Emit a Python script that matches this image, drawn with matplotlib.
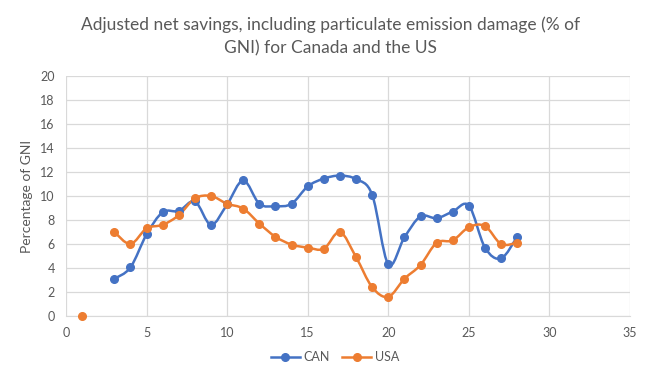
import numpy as np
import matplotlib
matplotlib.use("Agg")
import matplotlib.pyplot as plt
from matplotlib.path import Path
from matplotlib.patches import PathPatch
from matplotlib.lines import Line2D

years = list(range(1, 29))
can = [np.nan, np.nan, 3.1, 4.05, 6.8, 8.65, 8.75, 9.55, 7.6, 9.3, 11.3, 9.35, 9.15, 9.35,
       10.8, 11.45, 11.7, 11.4, 10.1, 4.3, 6.55, 8.3, 8.15, 8.7, 9.2, 5.7, 4.8, 6.6]
usa = [0.0, np.nan, 7.0, 6.0, 7.3, 7.6, 8.4, 9.8, 10.0, 9.35, 8.95, 7.7, 6.6, 5.95,
       5.7, 5.6, 7.0, 4.9, 2.4, 1.6, 3.1, 4.25, 6.1, 6.3, 7.4, 7.5, 6.0, 6.1]
series_names = ["CAN", "USA"]
colors = ["#4472C4", "#ED7D31"]

fig = plt.figure(figsize=(6.7, 3.79), dpi=100)
ax = fig.add_axes([66/670, 63/379, 564/670, 240/379])

def smooth_path(x, y):
    x = np.asarray(x, float); y = np.asarray(y, float)
    verts, codes = [], []
    runs, cur = [], []
    for i in range(len(x)):
        if np.isnan(y[i]):
            if cur: runs.append(cur); cur = []
        else:
            cur.append(i)
    if cur: runs.append(cur)
    for r in runs:
        if len(r) < 2:
            continue
        px = x[r]; py = y[r]
        m = len(r)
        verts.append((px[0], py[0])); codes.append(Path.MOVETO)
        for k in range(m - 1):
            p0 = (px[k-1], py[k-1]) if k > 0 else (px[k], py[k])
            p1 = (px[k], py[k]); p2 = (px[k+1], py[k+1])
            p3 = (px[k+2], py[k+2]) if k + 2 < m else (px[k+1], py[k+1])
            c1 = (p1[0] + (p2[0]-p0[0])/6, p1[1] + (p2[1]-p0[1])/6)
            c2 = (p2[0] - (p3[0]-p1[0])/6, p2[1] - (p3[1]-p1[1])/6)
            verts += [c1, c2, p2]; codes += [Path.CURVE4]*3
    return Path(verts, codes)

for vals, c in zip([can, usa], colors):
    ax.add_patch(PathPatch(smooth_path(years, vals), fill=False, edgecolor=c, lw=1.8, zorder=3))
    ax.plot(years, vals, linestyle="none", marker="o", markersize=5.5, color=c, zorder=4,
            clip_on=False)

ax.set_xlim(0, 35)
ax.set_ylim(0, 20)
ax.set_xticks(range(0, 36, 5))
ax.set_yticks(range(0, 21, 2))
ax.grid(True, color="#D9D9D9", lw=0.9)
ax.set_axisbelow(True)
for s in ["top", "right", "left"]:
    ax.spines[s].set_visible(False)
ax.spines["bottom"].set_color("#D9D9D9")
ax.tick_params(axis="x", length=0, labelsize=9, colors="#595959", pad=8)
ax.tick_params(axis="y", length=0, labelsize=9, colors="#595959", pad=8)
for lab in ax.get_xticklabels() + ax.get_yticklabels():
    lab.set_family("Lato")
ax.set_ylabel("Percentage of GNI", fontsize=10, color="#595959", family="Lato", labelpad=10)
ax.yaxis.set_label_coords(-33/564, 0.5)

fig.text(0.493, 0.905, "Adjusted net savings, including particulate emission damage (% of\nGNI) for Canada and the US",
         ha="center", va="center", fontsize=12.5, color="#595959", family="Lato", linespacing=1.55)

handles = [Line2D([], [], color=c, lw=1.8, marker="o", markersize=5.5) for c in colors]
fig.legend(handles, series_names, loc="center", bbox_to_anchor=(0.5, 0.058), ncol=2, frameon=False,
           prop={"family": "Lato", "size": 9}, labelcolor="#595959", handlelength=2.3,
           columnspacing=1.0, handletextpad=0.3)

fig.savefig("out.png", dpi=100)
